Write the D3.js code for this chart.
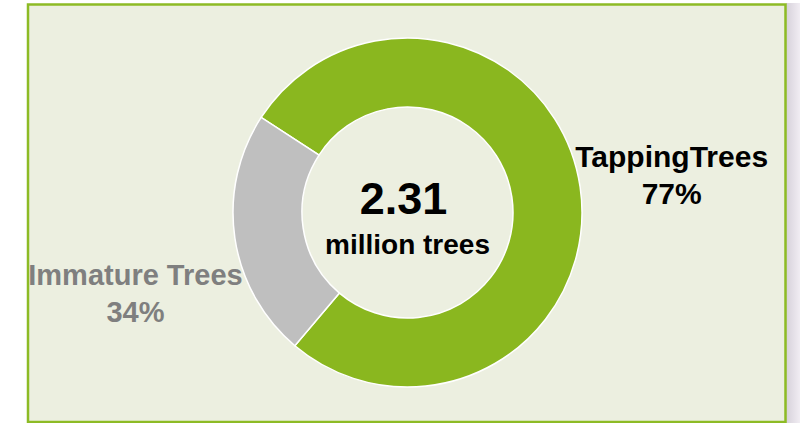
<!DOCTYPE html>
<html>
<head>
<meta charset="utf-8">
<script src="https://cdn.jsdelivr.net/npm/d3@7.9.0/dist/d3.min.js"></script>
<style>
  html, body { margin: 0; padding: 0; background: #ffffff; }
  svg { display: block; font-family: "Liberation Sans", Arial, sans-serif; font-weight: bold; }
</style>
</head>
<body>
<svg id="chart" width="800" height="423"></svg>
<script>
// --- data ---
const categories = ["TappingTrees", "Immature Trees"];
const shares = [77, 23];               // slice sizes read from the ring
const shareLabels = ["77%", "34%"];    // percentages as printed on the chart
const sliceColors = ["#8AB71F", "#BFBFBF"];
const labelColors = ["#000000", "#7F7F7F"];
const totalValue = "2.31";
const totalUnit = "million trees";

const svg = d3.select("#chart");

// right-hand shadow of the panel
const grad = svg.append("defs").append("linearGradient")
  .attr("id", "shadow").attr("x1", 0).attr("x2", 1).attr("y1", 0).attr("y2", 0);
grad.append("stop").attr("offset", 0).attr("stop-color", "#d6d1da");
grad.append("stop").attr("offset", 1).attr("stop-color", "#f1edf3");
svg.append("rect")
  .attr("x", 786).attr("y", 3).attr("width", 14).attr("height", 420)
  .attr("fill", "url(#shadow)");

svg.append("rect")
  .attr("x", 28).attr("y", 4.5).attr("width", 757.5).attr("height", 417.5)
  .attr("fill", "#ECEFE0")
  .attr("stroke", "#8DBB25")
  .attr("stroke-width", 2.5);

const cx = 407.5, cy = 212.5;
const outerR = 174.5, innerR = 105.5;
const startAngle = -57 * Math.PI / 180;

const pie = d3.pie()
  .sort(null)
  .value(d => d)
  .startAngle(startAngle)
  .endAngle(startAngle + 2 * Math.PI);
const arcData = pie(shares);

const arc = d3.arc().innerRadius(innerR).outerRadius(outerR);

const g = svg.append("g").attr("transform", `translate(${cx},${cy})`);

g.selectAll("path")
  .data(arcData)
  .join("path")
  .attr("d", arc)
  .attr("fill", (_, i) => sliceColors[i])
  .attr("stroke", "#ffffff")
  .attr("stroke-width", 1.5);

// centre text
g.append("text")
  .attr("text-anchor", "middle")
  .attr("x", -4)
  .attr("y", 1.5)
  .attr("font-size", 45)
  .attr("fill", "#000")
  .text(totalValue);
g.append("text")
  .attr("text-anchor", "middle")
  .attr("y", 41)
  .attr("font-size", 28)
  .attr("fill", "#000")
  .text(totalUnit);

// slice labels, placed from each slice's mid angle
const labelRadius = [265, 274];
const labelShift = [[2, 0], [-1, 39]];
const labelSize = [30, 29];
arcData.forEach((d, i) => {
  const [lx, ly] = d3.arc().innerRadius(labelRadius[i]).outerRadius(labelRadius[i]).centroid(d);
  const t = g.append("text")
    .attr("text-anchor", "middle")
    .attr("font-size", labelSize[i])
    .attr("fill", labelColors[i])
    .attr("transform", `translate(${lx + labelShift[i][0]},${ly + labelShift[i][1]})`);
  t.append("tspan").attr("x", 0).attr("y", -7).text(categories[i]);
  t.append("tspan").attr("x", 0).attr("y", 30).text(shareLabels[i]);
});
</script>
</body>
</html>
